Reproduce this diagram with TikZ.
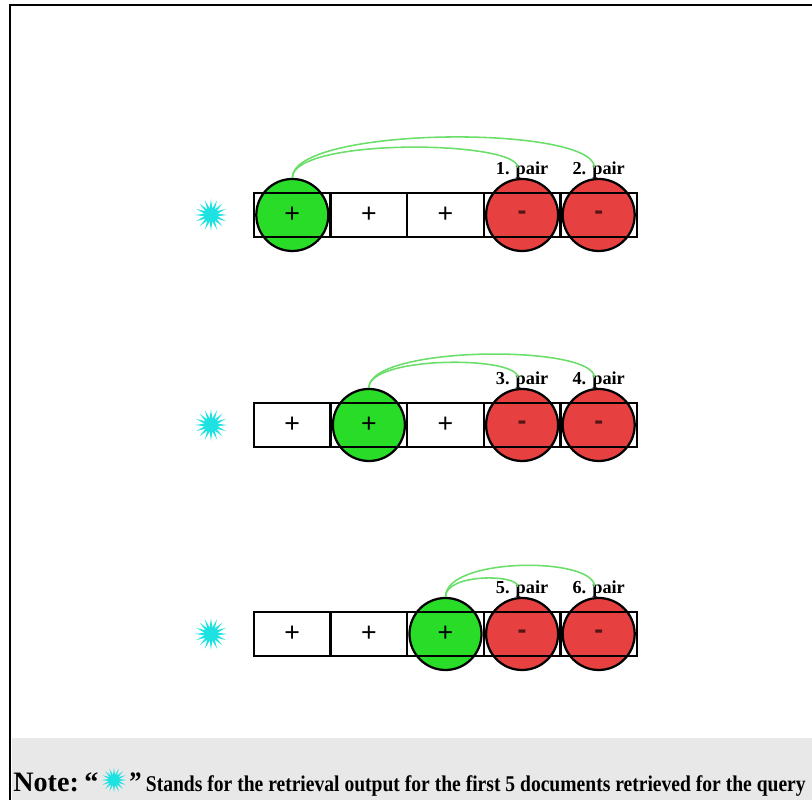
\documentclass[tikz,border=0pt]{standalone}
\usepackage{fontspec}
\setmainfont{Liberation Serif}
\setsansfont{Liberation Sans}
\newfontfamily\notefont[FakeStretch=0.87]{Liberation Serif}
\usetikzlibrary{shapes.geometric,positioning}

\definecolor{docgreen}{RGB}{40,220,40}
\definecolor{docred}{RGB}{230,64,64}
\definecolor{querycyan}{RGB}{30,225,225}
\definecolor{linkgreen}{RGB}{105,222,105}
\definecolor{notegray}{RGB}{232,232,232}

\begin{document}
\begin{tikzpicture}[x=0.025cm,y=0.025cm,
    cell/.style={draw,line width=1.6pt,minimum width=1.915cm,minimum height=1.1cm,inner sep=0pt,
      font=\sffamily\fontsize{19}{19}\selectfont},
    doc/.style={circle,draw,line width=1.6pt,minimum size=1.8cm,inner sep=0pt},
    relevant/.style={doc,fill=docgreen},
    irrelevant/.style={doc,fill=docred},
    query/.style={star,star points=16,star point ratio=2.4,fill=querycyan,inner sep=0pt,minimum size=0.8cm},
    pairlabel/.style={font=\bfseries\fontsize{13}{13}\selectfont,inner sep=0pt,anchor=base},
    link/.style={linkgreen,line width=1.1pt}]

    \useasboundingbox (0,0) rectangle (812,800);

    % frame and note strip
    \fill[notegray] (12,0) rectangle (812,62);
    \draw[line width=1.6pt] (812,795) -- (10,795) -- (10,0);

    % three ranked lists, one relevant doc each
    \foreach \r/\y/\g/\aa/\ab/\ba/\bb in {1/585/1/40.5/27.5/52/43, 2/375/2/32/22/42.5/33.5, 3/166/3/23.5/12.5/40/30}{
        \node[relevant] (g\r) at ({215.7+76.6*\g},\y) {};
        \node[irrelevant] (na\r) at ({215.7+76.6*4},\y) {};
        \node[irrelevant] (nb\r) at ({215.7+76.6*5},\y) {};
        \foreach \k in {1,2,3}
            \node[cell] (c\r\k) at ({215.7+76.6*\k},\y) {+};
        \foreach \k in {4,5}
            \node[cell,text=docred!35!black,font=\sffamily\bfseries\fontsize{19}{19}\selectfont] (c\r\k) at ({215.7+76.6*\k},\y) {-};
        \node[query] (q\r) at (211,\y) {};

        \pgfmathtruncatemacro\pa{2*\r-1}
        \pgfmathtruncatemacro\pb{2*\r}
        \node[pairlabel] (pa\r) at ({215.7+76.6*4},{\y+40}) {\pa. pair};
        \node[pairlabel] (pb\r) at ({215.7+76.6*5},{\y+40}) {\pb. pair};
        \draw[link] (g\r.north) .. controls +(0,\aa) and +(0,\ab) .. ([xshift=-3pt,yshift=3pt]pa\r.mid);
        \draw[link] (g\r.north) .. controls +(0,\ba) and +(0,\bb) .. ([xshift=-3pt,yshift=3pt]pb\r.mid);
    }

    % note
    \node[anchor=base west,inner sep=0pt,font=\bfseries\fontsize{20}{20}\selectfont] (note) at (13,8) {Note:\kern4pt“};
    \node[query,minimum size=0.62cm,anchor=west] (noteq) at ([xshift=0.5pt,yshift=8.5pt]note.base east) {};
    \node[anchor=base west,inner sep=0pt,font=\notefont\bfseries\fontsize{16}{16}\selectfont] (notetail)
        at ([xshift=0.5pt]noteq.east |- note.base) {{\fontsize{20}{20}\selectfont ”}\kern3pt Stands for the retrieval output for the first 5 documents retrieved for the query};
\end{tikzpicture}
\end{document}
